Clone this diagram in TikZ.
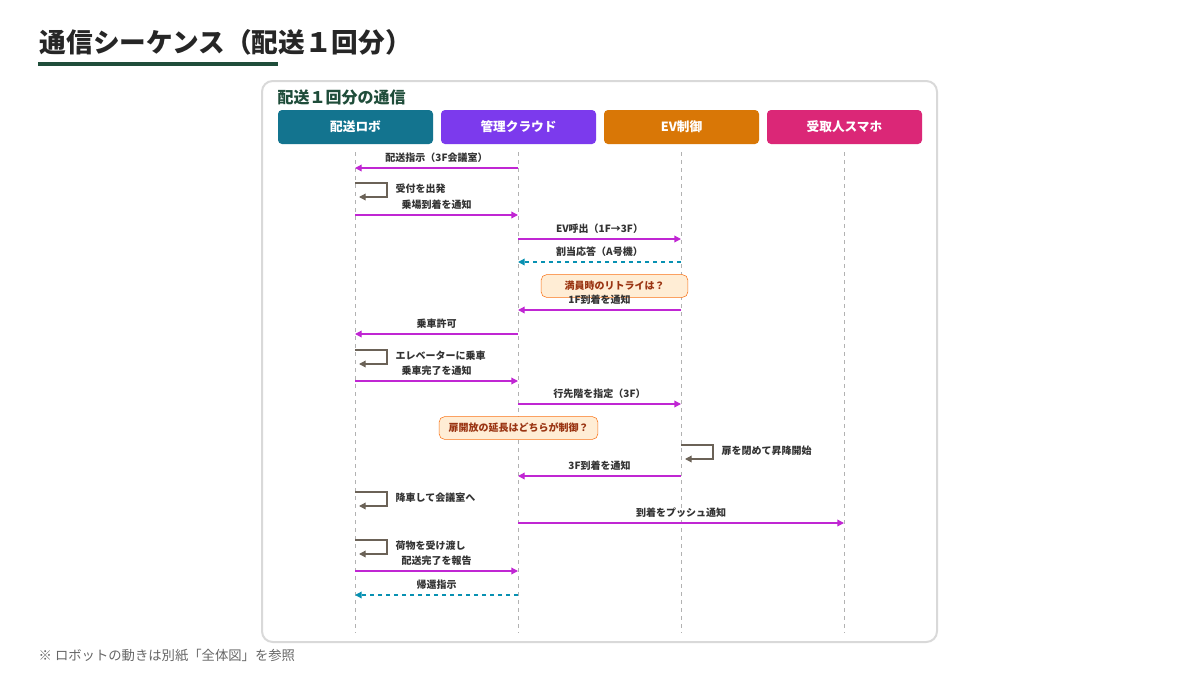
\documentclass[tikz,border=0pt]{standalone}
\usepackage{fontspec}
\setmainfont{Noto Sans CJK JP}
\usetikzlibrary{arrows.meta,calc}
\definecolor{ttlgreen}{HTML}{1F4D3A}
\definecolor{robo}{HTML}{13748F}
\definecolor{cloud}{HTML}{7C3AED}
\definecolor{evc}{HTML}{D97706}
\definecolor{phone}{HTML}{DB2777}
\definecolor{msg}{HTML}{C026D3}
\definecolor{rep}{HTML}{0891B2}
\definecolor{selfc}{HTML}{6B6257}
\definecolor{notefill}{HTML}{FFEDD5}
\definecolor{noteline}{HTML}{F97316}
\definecolor{notetext}{HTML}{9A3412}
\tikzset{
  head/.style={rounded corners=3pt, minimum width=116.25pt, minimum height=25.5pt, text=white, font=\bfseries\fontsize{9.5}{9.5}\selectfont},
  life/.style={dashed, draw=gray!60, line width=0.6pt},
  call/.style={draw=msg, line width=1pt, -{Triangle[length=5pt,width=5pt]}},
  answer/.style={draw=rep, line width=1pt, dashed, -{Triangle[length=5pt,width=5pt]}},
  loopb/.style={draw=selfc, line width=1pt, -{Triangle[length=5pt,width=5pt]}},
  lbl/.style={font=\bfseries\fontsize{7.5}{7.5}\selectfont, text=black!80, inner sep=1pt},
  note/.style={draw=noteline, fill=notefill, rounded corners=4pt, text=notetext, font=\bfseries\fontsize{7.5}{7.5}\selectfont, inner xsep=7pt, minimum height=17pt}
}
\begin{document}
\begin{tikzpicture}[x=0.75pt,y=0.75pt,yscale=-1,xscale=1]
\useasboundingbox (0,0) rectangle (1200,675);

% Title
\node (title) [anchor=west, font=\bfseries\fontsize{20}{20}\selectfont, text=black!85] at (35,42) {通信シーケンス（配送１回分）};
\draw [ttlgreen, line width=3pt] (38,64) -- (278,64);

% Panel
\draw [draw=black!15, line width=1.5pt, rounded corners=8pt, fill=white] (262,81) rectangle (937,642);
\node (ptitle) [anchor=west, font=\bfseries\fontsize{12}{12}\selectfont, text=ttlgreen] at (273,97) {配送１回分の通信};

% Headers
\node (robot) [head, fill=robo] at (355.5,127) {配送ロボ};
\node (cloud) [head, fill=cloud] at (518.5,127) {管理クラウド};
\node (ev) [head, fill=evc] at (681.5,127) {EV制御};
\node (smart) [head, fill=phone] at (844.5,127) {受取人スマホ};

% Lifelines
\foreach \n/\x in {R/355,C/518,E/681,S/844}{
  \coordinate (\n top) at (\x,152);
  \coordinate (\n bot) at (\x,633);
  \draw [life] (\n top) -- (\n bot);
}

% Messages
\newcommand{\msgline}[5]{% style, from x, to x, y, label
  \coordinate (m1) at (#2,#4); \coordinate (m2) at (#3,#4);
  \draw [#1] (m1) -- (m2);
  \node [lbl] at ($(m1)!0.5!(m2)+(0,-10)$) {#5};}
\newcommand{\selfmsg}[3]{% x, y, label
  \coordinate (s1) at (#1,#2); \coordinate (s2) at (#1+32,#2); \coordinate (s3) at (#1+32,#2+14); \coordinate (s4) at (#1+4,#2+14);
  \draw [loopb] (s1) -- (s2) -- (s3) -- (s4);
  \node [lbl, anchor=west] at (#1+39,#2+6) {#3};}

\msgline{call}{518}{355}{168}{配送指示（3F会議室）}
\selfmsg{355}{183}{受付を出発}
\msgline{call}{355}{518}{215}{乗場到着を通知}
\msgline{call}{518}{681}{239}{EV呼出（1F→3F）}
\msgline{answer}{681}{518}{262}{割当応答（A号機）}
\node (note1) [note, minimum width=110pt] at (614.5,286) {満員時のリトライは？};
\msgline{call}{681}{518}{310}{1F到着を通知}
\msgline{call}{518}{355}{334}{乗車許可}
\selfmsg{355}{350}{エレベーターに乗車}
\msgline{call}{355}{518}{381}{乗車完了を通知}
\msgline{call}{518}{681}{404}{行先階を指定（3F）}
\node (note2) [note] at (518.5,428) {扉開放の延長はどちらが制御？};
\selfmsg{681}{445}{扉を閉めて昇降開始}
\msgline{call}{681}{518}{476}{3F到着を通知}
\selfmsg{355}{492}{降車して会議室へ}
\msgline{call}{518}{844}{523}{到着をプッシュ通知}
\selfmsg{355}{540}{荷物を受け渡し}
\msgline{call}{355}{518}{571}{配送完了を報告}
\msgline{answer}{518}{355}{595}{帰還指示}

% Footer
\node (foot) [anchor=west, font=\fontsize{10}{10}\selectfont, text=black!60] at (34,656) {※ ロボットの動きは別紙「全体図」を参照};
\end{tikzpicture}
\end{document}
